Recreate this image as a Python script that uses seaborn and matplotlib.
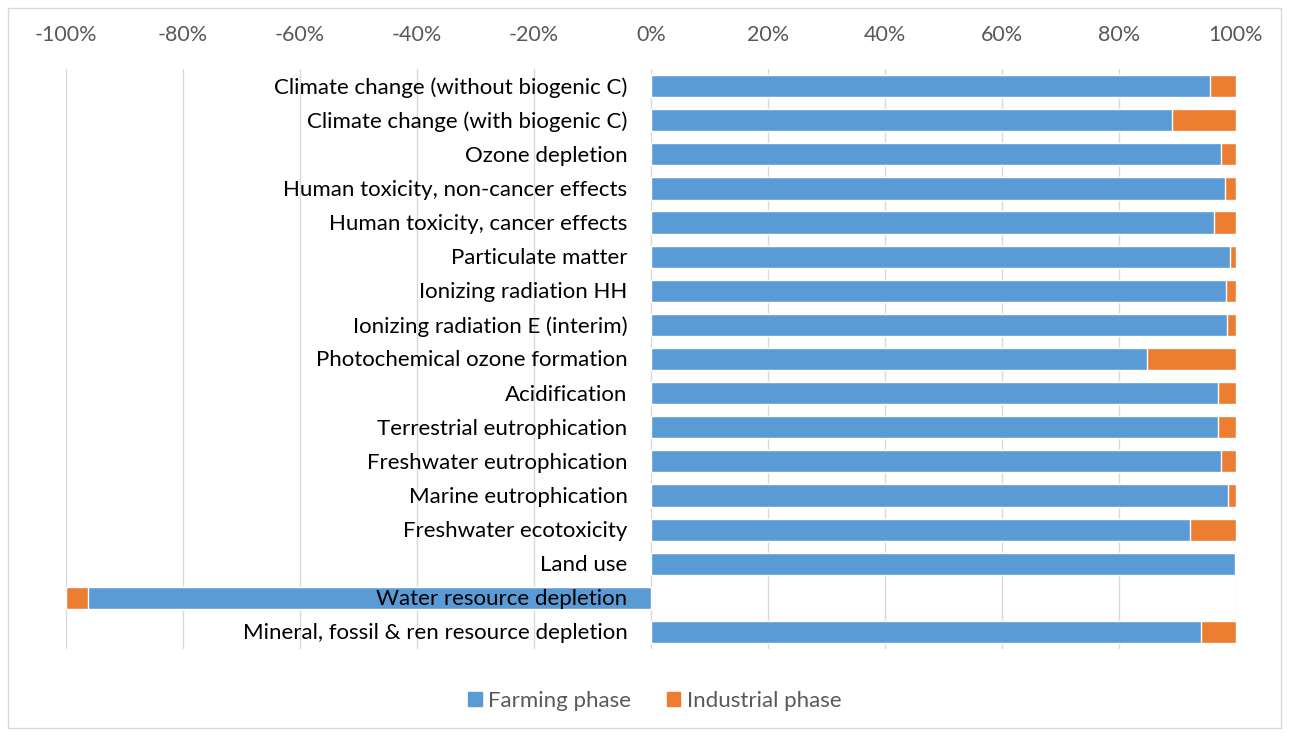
import matplotlib
matplotlib.use("Agg")
import matplotlib.pyplot as plt
from matplotlib.patches import Patch, Rectangle
import seaborn as sns
import pandas as pd

# --- data (percent share of each phase) ---
categories = [
    "Climate change (without biogenic C)",
    "Climate change (with biogenic C)",
    "Ozone depletion",
    "Human toxicity, non-cancer effects",
    "Human toxicity, cancer effects",
    "Particulate matter",
    "Ionizing radiation HH",
    "Ionizing radiation E (interim)",
    "Photochemical ozone formation",
    "Acidification",
    "Terrestrial eutrophication",
    "Freshwater eutrophication",
    "Marine eutrophication",
    "Freshwater ecotoxicity",
    "Land use",
    "Water resource depletion",
    "Mineral, fossil & ren resource depletion",
]
farming = [95.6, 89.0, 97.5, 98.1, 96.2, 98.9, 98.3, 98.5, 84.8,
           97.0, 97.0, 97.5, 98.7, 92.2, 99.8, -96.2, 94.0]
industrial = [4.4, 11.0, 2.5, 1.9, 3.8, 1.1, 1.7, 1.5, 15.2,
              3.0, 3.0, 2.5, 1.3, 7.8, 0.2, -3.8, 6.0]
x_ticks = [-100, -80, -60, -40, -20, 0, 20, 40, 60, 80, 100]

blue = "#5B9BD5"
orange = "#ED7D31"
grey_text = "#595959"

df = pd.DataFrame({"category": categories, "farming": farming,
                   "industrial": industrial})
df["total"] = df["farming"] + df["industrial"]

sns.set_style("white")
plt.rcParams["font.family"] = ["Lato", "DejaVu Sans"]

fig = plt.figure(figsize=(12.89, 7.36), dpi=100)
ax = fig.add_axes([66 / 1289, 1 - 649 / 736, (1236 - 66) / 1289, (649 - 69) / 736])

# stacked look: draw the total in orange, then farming on top in blue
sns.barplot(data=df, x="total", y="category", orient="h", color=orange,
            width=0.65, errorbar=None, saturation=1, ax=ax)
sns.barplot(data=df, x="farming", y="category", orient="h", color=blue,
            width=0.65, errorbar=None, saturation=1, ax=ax)

ax.set_xlim(-100, 100)
ax.set_xticks(x_ticks)
ax.set_xticklabels([f"{v}%" for v in x_ticks], color=grey_text, fontsize=15.5)
ax.xaxis.tick_top()
ax.tick_params(axis="x", length=0, pad=17)
ax.set_xlabel("")
ax.set_ylabel("")
ax.set_yticks([])
ax.grid(axis="x", color="#D9D9D9", linewidth=1)
ax.set_axisbelow(True)
for s in ax.spines.values():
    s.set_visible(False)

# category labels sit next to the zero line
for i, cat in enumerate(categories):
    ax.annotate(cat, xy=(0, i), xytext=(-17, -1), textcoords="offset points",
                ha="right", va="center", fontsize=16, color="black")

handles = [Patch(color=blue, label="Farming phase"),
           Patch(color=orange, label="Industrial phase")]
fig.legend(handles=handles, loc="center", bbox_to_anchor=(0.508, 1 - 701 / 736),
           ncol=2, frameon=False, fontsize=16, handlelength=0.6,
           handleheight=0.6, handletextpad=0.3, columnspacing=1.6,
           labelcolor=grey_text)

fig.patches.append(Rectangle((8 / 1289, 8 / 736), 1 - 16 / 1289, 1 - 16 / 736,
                             transform=fig.transFigure, fill=False,
                             edgecolor="#D9D9D9", linewidth=1))

fig.savefig("out.png", dpi=100)
